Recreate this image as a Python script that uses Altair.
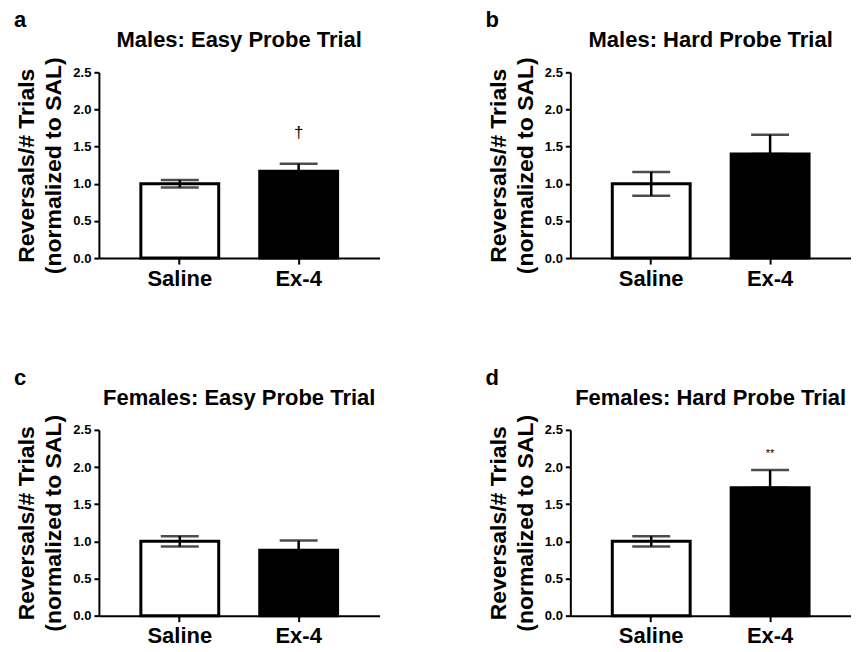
import altair as alt
import pandas as pd

panel_ids = ["a", "b", "c", "d"]
panel_titles = [
    "Males: Easy Probe Trial",
    "Males: Hard Probe Trial",
    "Females: Easy Probe Trial",
    "Females: Hard Probe Trial",
]
groups = ["Saline", "Ex-4"]
saline_mean = [1.00, 1.00, 1.00, 1.00]
saline_err = [0.05, 0.16, 0.07, 0.07]
ex4_mean = [1.17, 1.40, 0.88, 1.72]
ex4_err = [0.10, 0.26, 0.13, 0.24]
annot_text = ["†", "", "", "**"]
annot_y = [1.68, 0.0, 0.0, 2.17]
y_ticks = [0.0, 0.5, 1.0, 1.5, 2.0, 2.5]
y_title = ["Reversals/# Trials", "(normalized to SAL)"]

FONT = "Liberation Sans"
W, H = 281, 186


def panel(i):
    df = pd.DataFrame({
        "group": groups,
        "mean": [saline_mean[i], ex4_mean[i]],
        "lo": [saline_mean[i] - saline_err[i], ex4_mean[i]],
        "hi": [saline_mean[i] + saline_err[i], ex4_mean[i] + ex4_err[i]],
    })
    xscale = alt.Scale(domain=groups, paddingInner=0.345, paddingOuter=0.353)
    xaxis = alt.Axis(title=None, labelAngle=0, labelFontSize=22, labelFontWeight="bold",
                     labelFont=FONT, labelColor="black", labelPadding=4, tickSize=6,
                     tickWidth=2, tickColor="black", domainColor="black", domainWidth=2,
                     grid=False)
    yscale = alt.Scale(domain=[0, 2.5], nice=False)
    yaxis = alt.Axis(values=y_ticks, format=".1f", title=y_title, titleFontSize=23,
                     titleFont=FONT, titleFontWeight="bold", titleColor="black",
                     titleLineHeight=27, titlePadding=7, labelFontSize=13, labelFont=FONT,
                     labelFontWeight="bold", labelColor="black", labelPadding=3, tickSize=5,
                     tickWidth=2, tickColor="black", domainColor="black", domainWidth=2,
                     grid=False)
    x = alt.X("group:N", scale=xscale, axis=xaxis, sort=groups)

    bars = alt.Chart(df).mark_bar(stroke="black", strokeWidth=3).encode(
        x=x,
        y=alt.Y("mean:Q", scale=yscale, axis=yaxis),
        fill=alt.Fill("group:N", scale=alt.Scale(domain=groups, range=["white", "black"]), legend=None),
    )
    rule = alt.Chart(df).mark_rule(color="black", strokeWidth=2.5).encode(
        x=x, y=alt.Y("lo:Q", scale=yscale, axis=yaxis), y2="hi:Q"
    )
    cap_hi = alt.Chart(df).mark_tick(color="black", thickness=2.5, size=38).encode(
        x=x, y=alt.Y("hi:Q", scale=yscale, axis=yaxis)
    )
    cap_lo = alt.Chart(df).mark_tick(color="black", thickness=2.5, size=38).encode(
        x=x, y=alt.Y("lo:Q", scale=yscale, axis=yaxis)
    )
    layers = [bars, rule, cap_hi, cap_lo]
    if annot_text[i]:
        adf = pd.DataFrame({"group": ["Ex-4"], "ay": [annot_y[i]], "label": [annot_text[i]]})
        size = 17 if annot_text[i] == "†" else 11
        ann = alt.Chart(adf).mark_text(font=FONT, fontSize=size, color="black",
                                        baseline="middle").encode(
            x=x, y=alt.Y("ay:Q", scale=yscale, axis=yaxis), text="label:N"
        )
        layers.append(ann)
    tdf = pd.DataFrame({"letter": [panel_ids[i]], "title": [panel_titles[i]]})
    letter = alt.Chart(tdf).mark_text(font=FONT, fontSize=22, fontWeight="bold", color="black",
                                       align="left", baseline="alphabetic").encode(
        x=alt.value(-85), y=alt.value(-45), text="letter:N"
    )
    title = alt.Chart(tdf).mark_text(font=FONT, fontSize=22, fontWeight="bold", color="black",
                                      align="center", baseline="alphabetic").encode(
        x=alt.value(W / 2), y=alt.value(-25), text="title:N"
    )
    layers += [letter, title]
    return alt.layer(*layers).properties(width=W, height=H)


top = alt.hconcat(panel(0), panel(1), spacing=106)
bottom = alt.hconcat(panel(2), panel(3), spacing=106)
chart = alt.vconcat(top, bottom, spacing=78).properties(
    padding={"left": 6, "top": 1, "right": 0, "bottom": 0}
).configure_view(stroke=None)

chart.save("out.html", embed_options={"renderer": "svg", "actions": False})
